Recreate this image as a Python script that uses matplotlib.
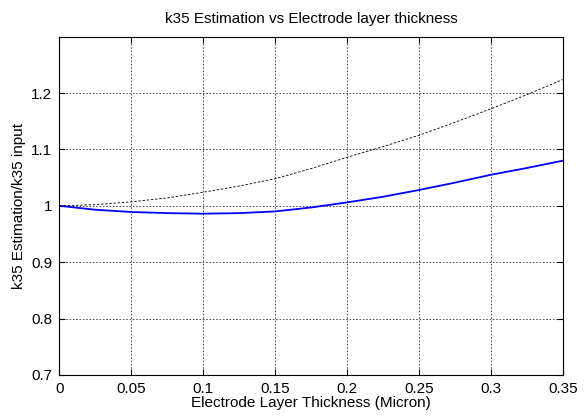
import numpy as np
import matplotlib
matplotlib.use("Agg")
import matplotlib.pyplot as plt

# data
thickness = [0.0, 0.025, 0.05, 0.075, 0.1, 0.125, 0.15, 0.175, 0.2, 0.225, 0.25, 0.275, 0.3, 0.325, 0.35]
k35_est = [1.000, 0.993, 0.989, 0.987, 0.986, 0.987, 0.990, 0.997, 1.006, 1.016, 1.028, 1.041, 1.055, 1.067, 1.080]
k35_ref = [1.000, 1.002, 1.007, 1.014, 1.024, 1.035, 1.048, 1.066, 1.086, 1.105, 1.125, 1.148, 1.172, 1.197, 1.224]
xticks = [0, 0.05, 0.1, 0.15, 0.2, 0.25, 0.3, 0.35]
yticks = [0.7, 0.8, 0.9, 1.0, 1.1, 1.2]
xlabels = ["0", "0.05", "0.1", "0.15", "0.2", "0.25", "0.3", "0.35"]
ylabels = ["0.7", "0.8", "0.9", "1", "1.1", "1.2"]

plt.rcParams['font.family'] = ['Liberation Sans', 'DejaVu Sans']

def main():
    fig = plt.figure(figsize=(5.88, 4.17), dpi=100)
    ax = fig.add_axes([0.101, 0.101, 0.856, 0.811])

    ax.plot(thickness, k35_est, color="#0000ff", lw=1.3)
    ax.plot(thickness, k35_ref, color="black", lw=0.6, ls=(0, (3, 2)))

    ax.set_xlim(0, 0.35)
    ax.set_ylim(0.7, 1.3)
    ax.set_xticks(xticks)
    ax.set_xticklabels(xlabels)
    ax.set_yticks(yticks)
    ax.set_yticklabels(ylabels)
    ax.tick_params(direction="in", labelsize=11, length=4, pad=5)
    ax.tick_params(top=True, right=True)
    ax.grid(True, color="#333333", ls=(0, (2, 2)), lw=0.6)
    for s in ax.spines.values():
        s.set_linewidth(0.8)

    ax.set_title("k35 Estimation vs Electrode layer thickness", fontsize=11, pad=10)
    ax.set_xlabel("Electrode Layer Thickness (Micron)", fontsize=11, labelpad=0)
    ax.set_ylabel("k35 Estimation/k35 input", fontsize=11, labelpad=4)

    fig.savefig("out.png", dpi=100)
    plt.close(fig)

if __name__=="__main__":
    main()
